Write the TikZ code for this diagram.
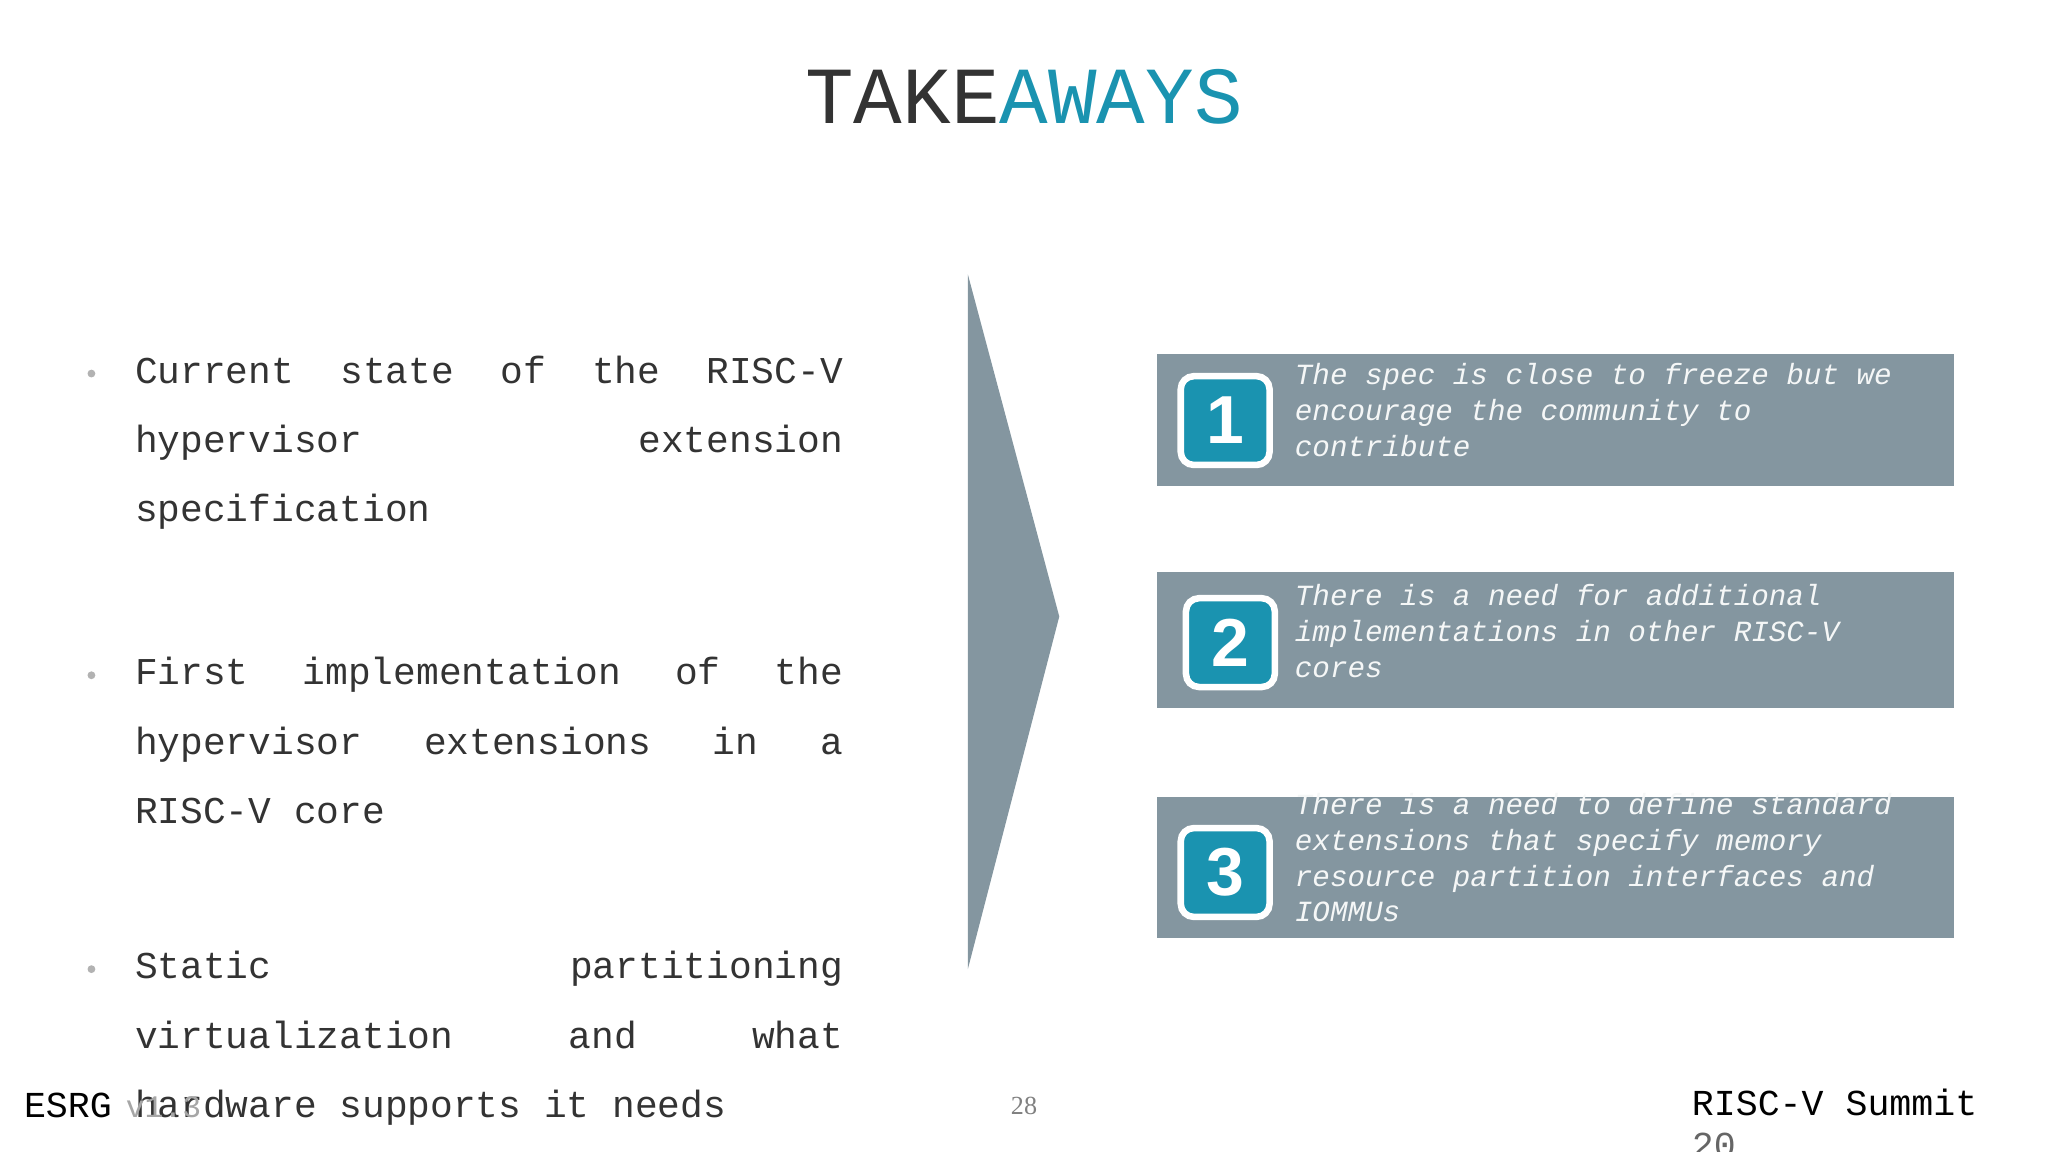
\documentclass[tikz,border=0pt]{standalone}
\usepackage{fontspec}
\setmainfont{Liberation Mono}
\newfontfamily\sansb{Liberation Sans}
\newfontfamily\serifx{Liberation Serif}
\definecolor{teal1}{HTML}{1A93B0}
\definecolor{slate}{HTML}{8496A0}
\definecolor{dark}{HTML}{333333}
\tikzset{
 body/.style={anchor=north west,inner sep=0pt,font=\fontsize{14.5}{26.5}\selectfont,text=dark},
 bul/.style={circle,fill=gray!60,inner sep=0pt,minimum size=3pt},
 panel/.style={fill=slate,draw=none},
 badge/.style={fill=teal1,draw=white,line width=2.5pt,rounded corners=5pt,minimum size=34pt,text=white,font=\sansb\bfseries\fontsize{26}{26}\selectfont},
 itxt/.style={anchor=north west,inner sep=0pt,text=white!92!slate,font=\itshape\fontsize{11.2}{13.7}\selectfont,align=left},
}
\newcommand{\jl}[1]{\makebox[271pt][s]{#1}\\}
\begin{document}
\begin{tikzpicture}[x=0.5pt,y=-0.5pt]
\useasboundingbox (0,0) rectangle (1568,882);
\node[inner sep=0pt,font=\fontsize{31}{31}\selectfont] (title) at (784,74) {\textcolor{dark}{TAKE}\textcolor{teal1}{AWAYS}};
% left bullets
\node[bul] (b1) at (70,286) {};
\node[body] (t1) at (103,272) {\parbox{271pt}{\jl{Current state of the RISC-V}\jl{hypervisor extension}specification}};
\node[bul] (b2) at (70,517) {};
\node[body] (t2) at (103,503) {\parbox{271pt}{\jl{First implementation of the}\jl{hypervisor extensions in a}RISC-V core}};
\node[bul] (b3) at (70,742) {};
\node[body] (t3) at (103,728) {\parbox{271pt}{\jl{Static partitioning}\jl{virtualization and what}hardware supports it needs}};
% arrow
\fill[slate] (741,210) -- (811,472) -- (741,742) -- cycle;
% panels
\fill[panel] (886,271) rectangle (1496,372);
\fill[panel] (886,438) rectangle (1496,542);
\fill[panel] (886,610) rectangle (1496,718);
\node[badge] (n1) at (938,322) {1};
\node[badge] (n2) at (942,492) {2};
\node[badge] (n3) at (938,668) {3};
\node[itxt] (p1) at (991,278) {The spec is close to freeze but we\\encourage the community to\\contribute};
\node[itxt] (p2) at (991,447) {There is a need for additional\\implementations in other RISC-V\\cores};
\node[itxt] (p3) at (991,607) {There is a need to define standard\\extensions that specify memory\\resource partition interfaces and\\IOMMUs};
% footer
\node[anchor=west,inner sep=0pt,text=gray!70,font=\fontsize{12}{12}\selectfont] (ver) at (96,848) {v1.3};
\node[anchor=west,inner sep=0pt,text=black,font=\fontsize{14}{14}\selectfont] (esrg) at (18,846) {ESRG};
\node[inner sep=0pt,text=gray,font=\serifx\fontsize{10}{10}\selectfont] (pg) at (784,847) {28};
\node[anchor=west,inner sep=0pt,text=black,font=\fontsize{14}{14}\selectfont] (sum) at (1295,844) {RISC-V Summit};
\node[anchor=west,inner sep=0pt,text=gray!80!black,font=\fontsize{14}{14}\selectfont] (yr) at (1295,877) {20};
\end{tikzpicture}
\end{document}
